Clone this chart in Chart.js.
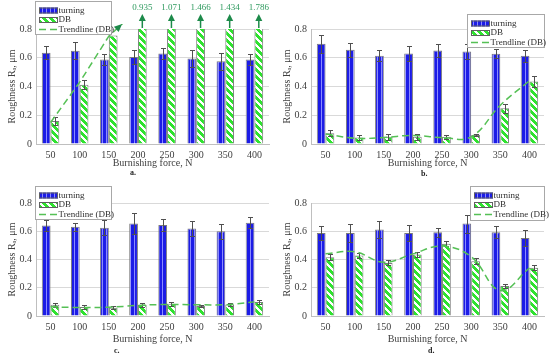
<!DOCTYPE html>
<html>
<head>
<meta charset="utf-8">
<script src="https://cdn.jsdelivr.net/npm/chart.js@4.4.0/dist/chart.umd.min.js"></script>
<style>
  body { margin: 0; background: #fff; }
  #wrap { position: relative; width: 550px; height: 357px; overflow: hidden; }
  #wrap canvas { position: absolute; }
  .tag { position: absolute; font: bold 8px 'Liberation Serif', serif; line-height: 9px; color: #222; }
</style>
</head>
<body>
<div id="wrap">
  <canvas id="chartA" width="275" height="178" style="left:0;top:0"></canvas>
  <canvas id="chartB" width="275" height="178" style="left:275px;top:0"></canvas>
  <canvas id="chartC" width="275" height="179" style="left:0;top:178px"></canvas>
  <canvas id="chartD" width="275" height="179" style="left:275px;top:178px"></canvas>
  <div class="tag" style="left:130px;top:168px">a.</div>
  <div class="tag" style="left:421px;top:169px">b.</div>
  <div class="tag" style="left:114px;top:346px">c.</div>
  <div class="tag" style="left:428px;top:346px">d.</div>
</div>
<script>
// burnishing force categories
const forces = ['50', '100', '150', '200', '250', '300', '350', '400'];

// a.
const turningA = [0.635, 0.648, 0.588, 0.605, 0.630, 0.595, 0.575, 0.587];
const turningErrA = [0.045, 0.060, 0.040, 0.050, 0.040, 0.060, 0.060, 0.040];
const dbA = [0.160, 0.413, 0.755, 0.935, 1.071, 1.466, 1.434, 1.786];
const dbErrA = [0.025, 0.030, 0, 0, 0, 0, 0, 0];
const trendA = [0.15, 0.43, 0.75, 0.935, null, null, null, null];

// b.
const turningB = [0.698, 0.656, 0.614, 0.630, 0.651, 0.644, 0.628, 0.614];
const turningErrB = [0.063, 0.050, 0.037, 0.055, 0.044, 0.054, 0.033, 0.042];
const dbB = [0.074, 0.045, 0.051, 0.051, 0.051, 0.063, 0.249, 0.435];
const dbErrB = [0.020, 0.018, 0.020, 0.020, 0.015, 0.005, 0.030, 0.035];
const trendB = [0.07, 0.04, 0.045, 0.06, 0.045, 0.05, 0.27, 0.44];

// c.
const turningC = [0.640, 0.631, 0.624, 0.654, 0.645, 0.619, 0.600, 0.661];
const turningErrC = [0.038, 0.030, 0.054, 0.075, 0.045, 0.056, 0.054, 0.040];
const dbC = [0.080, 0.064, 0.059, 0.080, 0.087, 0.071, 0.082, 0.099];
const dbErrC = [0.014, 0.013, 0.010, 0.013, 0.013, 0.010, 0.013, 0.012];
const trendC = [0.065, 0.06, 0.062, 0.075, 0.082, 0.08, 0.08, 0.1];

// d.
const turningD = [0.588, 0.588, 0.612, 0.588, 0.593, 0.654, 0.593, 0.553];
const turningErrD = [0.047, 0.066, 0.059, 0.059, 0.031, 0.064, 0.042, 0.059];
const dbD = [0.416, 0.428, 0.376, 0.435, 0.511, 0.388, 0.212, 0.341];
const dbErrD = [0.020, 0.020, 0.018, 0.018, 0.018, 0.022, 0.016, 0.018];
const trendD = [0.44, 0.455, 0.38, 0.44, 0.495, 0.42, 0.18, 0.34];

Chart.defaults.font.family = "'Liberation Serif', serif";
Chart.defaults.color = '#404040';

function makePattern(w, h, paint) {
    const c = document.createElement('canvas');
    c.width = w; c.height = h;
    const g = c.getContext('2d');
    paint(g);
    return g.createPattern(c, 'repeat');
}

// blue with thin light vertical stripes
const turningFill = makePattern(4, 4, g => {
    g.fillStyle = '#1c1ce6';
    g.fillRect(0, 0, 4, 4);
    g.fillStyle = '#8a8aff';
    g.fillRect(2, 0, 1, 4);
});

// green with white "\" stripes
const dbFill = makePattern(7, 7, g => {
    g.fillStyle = '#2fe22f';
    g.fillRect(0, 0, 7, 7);
    g.fillStyle = '#ffffff';
    for (let x = 0; x < 7; x++) {
        for (let y = 0; y < 7; y++) {
            if ((x - y + 70) % 7 < 3) g.fillRect(x, y, 1, 1);
        }
    }
});

const trendColor = '#55c055';

const errorBars = {
    id: 'errorBars',
    afterDatasetDraw(chart, args) {
        const ds = chart.data.datasets[args.index];
        if (!ds.errors) return;
        const y = chart.scales.y;
        const ctx = chart.ctx;
        ctx.save();
        ctx.strokeStyle = '#505050';
        ctx.lineWidth = 1;
        args.meta.data.forEach((bar, i) => {
            const v = ds.data[i], e = ds.errors[i];
            if (!e || v > y.max) return;
            const top = Math.round(y.getPixelForValue(v + e)) + 0.5;
            const bot = Math.round(y.getPixelForValue(v - e)) + 0.5;
            const x = Math.round(bar.x) + 0.5;
            ctx.beginPath();
            ctx.moveTo(x, top); ctx.lineTo(x, bot);
            ctx.moveTo(x - 2.5, top); ctx.lineTo(x + 2.5, top);
            ctx.moveTo(x - 2.5, bot); ctx.lineTo(x + 2.5, bot);
            ctx.stroke();
        });
        ctx.restore();
    }
};

// arrows + values for DB bars that run off the top, and arrowhead on the trendline
const overflow = {
    id: 'overflow',
    afterDatasetsDraw(chart, args, opts) {
        if (!opts.show) return;
        const y = chart.scales.y;
        const ctx = chart.ctx;
        const top = chart.chartArea.top;
        const arrowColor = '#1d8a4a';
        const dbIndex = chart.data.datasets.findIndex(d => d.label === 'DB');
        const ds = chart.data.datasets[dbIndex];
        const meta = chart.getDatasetMeta(dbIndex);
        ctx.save();
        meta.data.forEach((bar, i) => {
            if (ds.data[i] <= y.max) return;
            const x = bar.x;
            ctx.strokeStyle = arrowColor;
            ctx.fillStyle = arrowColor;
            ctx.lineWidth = 1.5;
            ctx.beginPath();
            ctx.moveTo(x, top - 1); ctx.lineTo(x, top - 9);
            ctx.stroke();
            ctx.beginPath();
            ctx.moveTo(x, top - 15);
            ctx.lineTo(x - 3.5, top - 8);
            ctx.lineTo(x + 3.5, top - 8);
            ctx.closePath();
            ctx.fill();
            ctx.fillStyle = '#2e9a5e';
            ctx.font = "9px 'Liberation Serif'";
            ctx.textAlign = 'center';
            ctx.textBaseline = 'middle';
            ctx.fillText(String(ds.data[i]), x, top - 21);
        });

        const lineIndex = chart.data.datasets.findIndex(d => d.type === 'line');
        const pts = chart.getDatasetMeta(lineIndex).data;
        const limit = top - 5;
        for (let i = 1; i < pts.length; i++) {
            const p0 = pts[i - 1], p1 = pts[i];
            if (p0.skip || p1.skip) continue;
            if (p0.y >= limit && p1.y < limit) {
                const t = (p0.y - limit) / (p0.y - p1.y);
                const tx = p0.x + t * (p1.x - p0.x);
                const ang = Math.atan2(p1.y - p0.y, p1.x - p0.x);
                ctx.fillStyle = arrowColor;
                ctx.translate(tx, limit);
                ctx.rotate(ang);
                ctx.beginPath();
                ctx.moveTo(0, 0);
                ctx.lineTo(-8, -3.5);
                ctx.lineTo(-8, 3.5);
                ctx.closePath();
                ctx.fill();
                break;
            }
        }
        ctx.restore();
    }
};

const boxLegend = {
    id: 'boxLegend',
    afterDraw(chart, args, o) {
        const ctx = chart.ctx;
        const sets = chart.data.datasets;
        ctx.save();
        ctx.fillStyle = '#fff';
        ctx.fillRect(o.x, o.y, o.w, o.h);
        ctx.strokeStyle = '#a8a8a8';
        ctx.lineWidth = 1;
        ctx.strokeRect(o.x + 0.5, o.y + 0.5, o.w, o.h);
        ctx.font = "9px 'Liberation Serif'";
        ctx.textBaseline = 'middle';
        ctx.textAlign = 'left';
        const rows = [o.y + 9.5, o.y + 19, o.y + 28.5];
        sets.forEach((ds, i) => {
            const ry = rows[i];
            const sx = o.x + 4;
            if (ds.type === 'line') {
                ctx.strokeStyle = ds.borderColor;
                ctx.lineWidth = 1.5;
                ctx.setLineDash([7, 4]);
                ctx.beginPath();
                ctx.moveTo(sx, ry); ctx.lineTo(sx + 18, ry);
                ctx.stroke();
                ctx.setLineDash([]);
            } else {
                ctx.fillStyle = ds.backgroundColor;
                ctx.fillRect(sx, ry - 3, 19, 6);
                ctx.strokeStyle = '#606060';
                ctx.lineWidth = 1;
                ctx.strokeRect(sx + 0.5, ry - 2.5, 18, 5);
            }
            ctx.fillStyle = '#303030';
            ctx.fillText(ds.label, sx + 19.5, ry);
        });
        ctx.restore();
    }
};

function makeChart(id, p) {
    return new Chart(document.getElementById(id), {
        type: 'bar',
        data: {
            labels: forces,
            datasets: [
                {
                    label: 'turning', data: p.turning, errors: p.turningErr,
                    backgroundColor: turningFill, borderColor: '#7a7a7a', borderWidth: 1,
                    categoryPercentage: 0.6, barPercentage: 1, order: 1
                },
                {
                    label: 'DB', data: p.db, errors: p.dbErr,
                    backgroundColor: dbFill, borderColor: '#7a7a7a', borderWidth: 1,
                    categoryPercentage: 0.6, barPercentage: 1, order: 1
                },
                {
                    type: 'line', label: 'Trendline (DB)', data: p.trend,
                    borderColor: trendColor, borderWidth: 1.5, borderDash: [7, 4],
                    pointRadius: 0, tension: p.tension, order: 0,
                    clip: p.clip || 3
                }
            ]
        },
        options: {
            responsive: false,
            animation: false,
            layout: { padding: { top: p.top, right: 6, bottom: p.bottom, left: 0 } },
            plugins: {
                legend: { display: false },
                tooltip: { enabled: false },
                boxLegend: p.legend,
                overflow: { show: !!p.overflow }
            },
            scales: {
                x: {
                    grid: { display: false, drawTicks: false },
                    border: { display: true, color: '#bfbfbf' },
                    ticks: { padding: 5, font: { size: 10 } },
                    title: { display: true, text: 'Burnishing force, N', font: { size: 10 }, padding: 0 },
                    afterFit: s => { s.height = p.xHeight; }
                },
                y: {
                    min: 0, max: 0.8,
                    grid: { color: '#d9d9d9', drawTicks: false },
                    border: { display: true, color: '#bfbfbf' },
                    ticks: {
                        stepSize: 0.1, padding: 4, font: { size: 10 },
                        callback: v => v === 0 ? '0' : v.toFixed(1)
                    },
                    title: { display: true, text: 'Roughness Rₐ, μm', font: { size: 10 }, padding: { top: 6, bottom: 0 } },
                    afterFit: s => { s.width = 36; }
                }
            }
        },
        plugins: [errorBars, overflow, boxLegend]
    });
}

makeChart('chartA', {
    turning: turningA, turningErr: turningErrA, db: dbA, dbErr: dbErrA, trend: trendA,
    tension: 0, top: 29, bottom: 9, xHeight: 25, overflow: true,
    clip: { left: 3, top: 5, right: 3, bottom: 3 },
    legend: { x: 35, y: 1, w: 76, h: 33 }
});
makeChart('chartB', {
    turning: turningB, turningErr: turningErrB, db: dbB, dbErr: dbErrB, trend: trendB,
    tension: 0.4, top: 29, bottom: 9, xHeight: 25,
    legend: { x: 192, y: 14, w: 77, h: 33 }
});
makeChart('chartC', {
    turning: turningC, turningErr: turningErrC, db: dbC, dbErr: dbErrC, trend: trendC,
    tension: 0.4, top: 25, bottom: 12, xHeight: 29,
    legend: { x: 35, y: 8, w: 76, h: 33 }
});
makeChart('chartD', {
    turning: turningD, turningErr: turningErrD, db: dbD, dbErr: dbErrD, trend: trendD,
    tension: 0.4, top: 25, bottom: 12, xHeight: 29,
    legend: { x: 195, y: 8, w: 74, h: 34 }
});
</script>
</body>
</html>
